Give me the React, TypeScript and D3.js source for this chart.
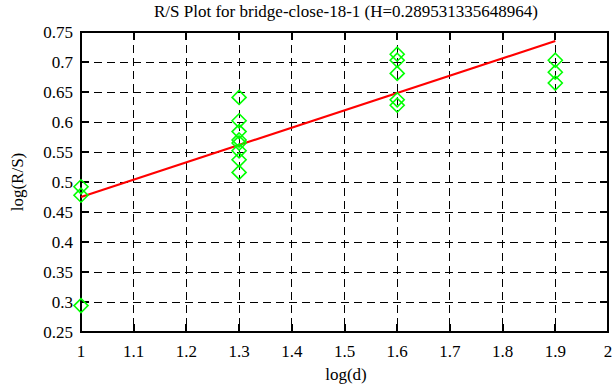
import React from "react";
import * as d3 from "d3";

const titleText = "R/S Plot for bridge-close-18-1 (H=0.289531335648964)";
const xTicks = [1, 1.1, 1.2, 1.3, 1.4, 1.5, 1.6, 1.7, 1.8, 1.9, 2];
const yTicks = [0.25, 0.3, 0.35, 0.4, 0.45, 0.5, 0.55, 0.6, 0.65, 0.7, 0.75];
const pointX = [1, 1, 1, 1.3, 1.3, 1.3, 1.3, 1.3, 1.3, 1.3, 1.3, 1.6, 1.6, 1.6, 1.6, 1.6, 1.9, 1.9, 1.9];
const pointY = [0.492, 0.478, 0.294, 0.641, 0.602, 0.584, 0.57, 0.565, 0.552, 0.537, 0.516, 0.713, 0.703, 0.681, 0.637, 0.628, 0.703, 0.683, 0.665];
const fitX = [1, 1.9];
const fitY = [0.475, 0.735];

const W = 616, H = 387;
const L = 81, R = 608, T = 32, B = 332;

export default function App() {
  const x = d3.scaleLinear().domain([1, 2]).range([L, R]);
  const y = d3.scaleLinear().domain([0.25, 0.75]).range([B, T]);
  const font = "'Liberation Serif', 'Times New Roman', serif";
  const fs = 17;
  const tick = 8;
  const line = d3.line<number>().x((_, i) => x(fitX[i])).y((_, i) => y(fitY[i]));
  const diamond = (cx: number, cy: number, r: number) =>
    `M${cx},${cy - r}L${cx + r},${cy}L${cx},${cy + r}L${cx - r},${cy}Z`;
  return (
    <svg width={W} height={H} style={{ position: "absolute", left: 0, top: 0, background: "#fff" }}>
      <rect width={W} height={H} fill="#fff" />
      <text x={346} y={17} textAnchor="middle" fontFamily={font} fontSize={fs}>{titleText}</text>
      {/* grid */}
      <g shapeRendering="crispEdges">
        {xTicks.slice(1, -1).map((t) => (
          <line key={"gx" + t} x1={x(t)} x2={x(t)} y1={T} y2={B} stroke="#000" strokeWidth={1} strokeDasharray="8,5" />
        ))}
        {yTicks.slice(1, -1).map((t) => (
          <line key={"gy" + t} x1={L} x2={R} y1={y(t)} y2={y(t)} stroke="#000" strokeWidth={1} strokeDasharray="8,5" />
        ))}
        {xTicks.map((t) => (
          <g key={"tx" + t}>
            <line x1={x(t)} x2={x(t)} y1={B} y2={B - tick} stroke="#000" strokeWidth={2} />
            <line x1={x(t)} x2={x(t)} y1={T} y2={T + tick} stroke="#000" strokeWidth={2} />
          </g>
        ))}
        {yTicks.map((t) => (
          <g key={"ty" + t}>
            <line x1={L} x2={L + tick} y1={y(t)} y2={y(t)} stroke="#000" strokeWidth={2} />
            <line x1={R} x2={R - tick} y1={y(t)} y2={y(t)} stroke="#000" strokeWidth={2} />
          </g>
        ))}
        <rect x={L} y={T} width={R - L} height={B - T} fill="none" stroke="#000" strokeWidth={2} />
      </g>
      {xTicks.map((t) => (
        <text key={"lx" + t} x={x(t)} y={B + 25} textAnchor="middle" fontFamily={font} fontSize={fs}>{String(t)}</text>
      ))}
      {yTicks.map((t) => (
        <text key={"ly" + t} x={L - 8} y={y(t) + 6} textAnchor="end" fontFamily={font} fontSize={fs}>{String(t)}</text>
      ))}
      <path d={line(fitX) || ""} fill="none" stroke="#ff0000" strokeWidth={2.2} />
      {pointX.map((px, i) => (
        <path key={"p" + i} d={diamond(x(px), y(pointY[i]), 7)} fill="none" stroke="#00ff00" strokeWidth={1.6} />
      ))}
      <text x={346} y={380} textAnchor="middle" fontFamily={font} fontSize={fs}>log(d)</text>
      <text transform={`translate(23,${(T + B) / 2}) rotate(-90)`} textAnchor="middle" fontFamily={font} fontSize={fs}>log(R/S)</text>
    </svg>
  );
}
